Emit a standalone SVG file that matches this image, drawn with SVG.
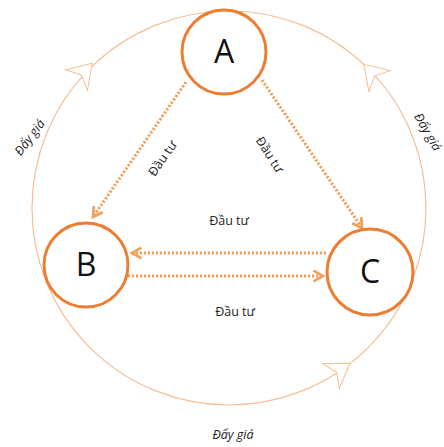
<svg xmlns="http://www.w3.org/2000/svg" width="444" height="447" viewBox="0 0 444 447">
<style>
.node{fill:#fff;stroke:#ED7D31;stroke-width:3}
.lbl{font-family:"Open Sans","Liberation Sans",sans-serif;font-size:32px;fill:#111;text-anchor:middle}
.dot{fill:none;stroke:#F0A05A;stroke-width:3;stroke-dasharray:2.2 1.8}
.t{font-family:"Open Sans","Liberation Sans",sans-serif;font-size:12.5px;fill:#222;text-anchor:middle}
.ti{font-family:"Open Sans","Liberation Sans",sans-serif;font-size:12.5px;fill:#222;text-anchor:middle;font-style:italic}
.ring{fill:none;stroke:#F6BE94;stroke-width:1.2}
.chev{fill:#fff;stroke:#F6BE94;stroke-width:1}
</style>
<defs>
<marker id="ah" viewBox="0 0 10 10" refX="8" refY="5" markerWidth="4.5" markerHeight="4.5" orient="auto" markerUnits="strokeWidth">
<path d="M1,1 L8,5 L1,9" fill="none" stroke="#F0A05A" stroke-width="2"/>
</marker>
<polygon id="chevron" points="12,0 -11,-15 -4,0 -11,15"/>
</defs>
<g id="cycle">
<circle class="ring" cx="229" cy="208" r="197"/>
<use href="#chevron" class="chev" transform="translate(84,72) rotate(-47)"/>
<use href="#chevron" class="chev" transform="translate(372,73) rotate(-134)"/>
<use href="#chevron" class="chev" transform="translate(340,370) rotate(-34)"/>
</g>
<g id="connectors">
<line class="dot" x1="186" y1="82" x2="93" y2="217" marker-end="url(#ah)"/>
<line class="dot" x1="262" y1="80" x2="362" y2="228" marker-end="url(#ah)"/>
<line class="dot" x1="326" y1="253" x2="132" y2="253" marker-end="url(#ah)"/>
<line class="dot" x1="128" y1="276" x2="323" y2="276" marker-end="url(#ah)"/>
</g>
<g id="labels">
<text class="t" transform="translate(166,161) rotate(-55)">Đầu tư</text>
<text class="t" transform="translate(266,157) rotate(57)">Đầu tư</text>
<text class="t" x="229" y="225">Đầu tư</text>
<text class="t" x="235" y="316">Đầu tư</text>
<text class="ti" x="233" y="439">Đẩy giá</text>
<text class="ti" transform="translate(33,140) rotate(-53)">Đẩy giá</text>
<text class="ti" transform="translate(424,134) rotate(60)">Đẩy giá</text>
</g>
<g id="node-A">
<circle class="node" cx="224" cy="52" r="42"/>
<text class="lbl" x="224" y="63">A</text>
</g>
<g id="node-B">
<circle class="node" cx="86" cy="265" r="42"/>
<text class="lbl" x="86" y="276">B</text>
</g>
<g id="node-C">
<circle class="node" cx="370" cy="272" r="43"/>
<text class="lbl" x="370" y="283">C</text>
</g>
</svg>
